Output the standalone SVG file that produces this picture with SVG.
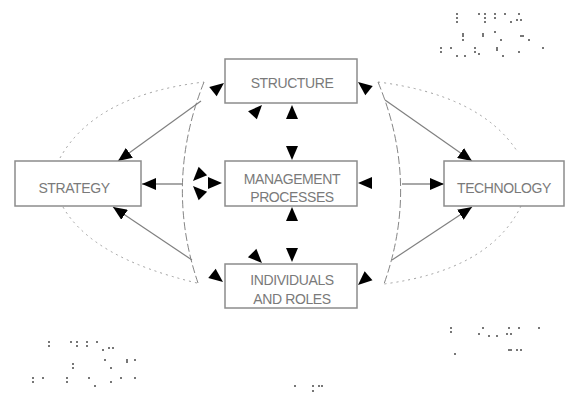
<svg xmlns="http://www.w3.org/2000/svg" xmlns:xlink="http://www.w3.org/1999/xlink" width="566" height="394" viewBox="0 0 566 394">
<style>
.box{fill:#fff;stroke:#8c8c8c;stroke-width:1.5}
.lbl{font-family:"Liberation Sans",Arial,sans-serif;font-size:14px;fill:#7a7a7a;text-anchor:middle;letter-spacing:-0.4px}
.dot{fill:none;stroke:#a0a0a0;stroke-width:1;stroke-dasharray:2 4}
.dash{fill:none;stroke:#858585;stroke-width:1;stroke-dasharray:8 3}
.sol{fill:none;stroke:#808080;stroke-width:1.2}
.hor{fill:none;stroke:#a8a8a8;stroke-width:2}
.ah{fill:#000}
.mk rect{fill:#777}
</style>
<defs>
<marker id="arr" viewBox="0 0 14 12" refX="14" refY="6" markerWidth="14" markerHeight="12" markerUnits="userSpaceOnUse" orient="auto">
<path d="M0,0 L14,6 L0,12 Z" fill="#000"/>
</marker>
<path id="ah" d="M0,0 L-14,-6 L-14,6 Z"/>
</defs>

<g id="connectors">
<!-- left side -->
<path class="dot" d="M60,158 Q95,95 204,82"/>
<path class="dot" d="M63,207 Q92,258 197,283"/>
<path class="dash" d="M204,82 Q164,183 198,283"/>
<line class="sol" x1="201" y1="101" x2="118" y2="161" marker-end="url(#arr)"/>
<line class="sol" x1="192" y1="260" x2="113" y2="207" marker-end="url(#arr)"/>
<line class="hor" x1="182" y1="184" x2="142" y2="184" marker-end="url(#arr)"/>
<!-- right side -->
<path class="dot" d="M378,82 Q480,95 517,151"/>
<path class="dot" d="M521,206 Q490,270 384,284"/>
<path class="dash" d="M378,82 Q420,183 384,284"/>
<line class="sol" x1="385" y1="100" x2="472" y2="161" marker-end="url(#arr)"/>
<line class="sol" x1="392" y1="260" x2="472" y2="207" marker-end="url(#arr)"/>
<line class="hor" x1="402" y1="184" x2="444" y2="184" marker-end="url(#arr)"/>
<!-- isolated arrowheads -->
<g class="ah">
<use xlink:href="#ah" transform="translate(224,83) rotate(-38)"/>
<use xlink:href="#ah" transform="translate(358,82) rotate(218)"/>
<use xlink:href="#ah" transform="translate(262,105) rotate(-47)"/>
<use xlink:href="#ah" transform="translate(292,105) rotate(-90)"/>
<use xlink:href="#ah" transform="translate(292,160) rotate(90)"/>
<use xlink:href="#ah" transform="translate(292,207) rotate(-90)"/>
<use xlink:href="#ah" transform="translate(292,262) rotate(90)"/>
<use xlink:href="#ah" transform="translate(262,263) rotate(45)"/>
<use xlink:href="#ah" transform="translate(223,282) rotate(38)"/>
<use xlink:href="#ah" transform="translate(358,285) rotate(139)"/>
<use xlink:href="#ah" transform="translate(222,183) rotate(0)"/>
<use xlink:href="#ah" transform="translate(358,183) rotate(180)"/>
<use xlink:href="#ah" transform="translate(193,181) rotate(135)"/>
<use xlink:href="#ah" transform="translate(193,186) rotate(225)"/>
</g>
</g>

<g id="structure">
<rect class="box" x="225" y="59" width="132" height="44"/>
<text class="lbl" x="292" y="88">STRUCTURE</text>
</g>
<g id="management">
<rect class="box" x="225" y="161" width="132" height="45"/>
<text class="lbl" x="292" y="183.5">MANAGEMENT</text>
<text class="lbl" x="292" y="201.5">PROCESSES</text>
</g>
<g id="individuals">
<rect class="box" x="225" y="264" width="132" height="44"/>
<text class="lbl" x="292" y="285">INDIVIDUALS</text>
<text class="lbl" x="292" y="304">AND ROLES</text>
</g>
<g id="strategy">
<rect class="box" x="15" y="161" width="126" height="45"/>
<text class="lbl" x="74" y="193">STRATEGY</text>
</g>
<g id="technology">
<rect class="box" x="444" y="161" width="120" height="45"/>
<text class="lbl" x="504" y="193">TECHNOLOGY</text>
</g>

<g id="marks" class="mk">
<rect x="456" y="13" width="2" height="2"/><rect x="456" y="17" width="2" height="2"/><rect x="456" y="21" width="2" height="2"/><rect x="478" y="13" width="2" height="2"/><rect x="484" y="13" width="2" height="2"/><rect x="484" y="17" width="2" height="2"/><rect x="484" y="21" width="2" height="2"/><rect x="494" y="13" width="2" height="2"/><rect x="494" y="17" width="2" height="2"/><rect x="504" y="13" width="2" height="2"/><rect x="510" y="21" width="2" height="2"/><rect x="516" y="19" width="2" height="2"/><rect x="520" y="19" width="2" height="2"/><rect x="518" y="13" width="2" height="2"/>
<rect x="462" y="33" width="2" height="2"/><rect x="462" y="35" width="2" height="2"/><rect x="462" y="39" width="2" height="2"/><rect x="482" y="33" width="2" height="2"/><rect x="482" y="35" width="2" height="2"/><rect x="494" y="31" width="2" height="2"/><rect x="500" y="39" width="2" height="2"/><rect x="520" y="35" width="2" height="2"/><rect x="522" y="35" width="2" height="2"/><rect x="528" y="39" width="2" height="2"/>
<rect x="440" y="47" width="2" height="2"/><rect x="440" y="51" width="2" height="2"/><rect x="450" y="47" width="2" height="2"/><rect x="456" y="55" width="2" height="2"/><rect x="464" y="55" width="2" height="2"/><rect x="474" y="47" width="2" height="2"/><rect x="474" y="51" width="2" height="2"/><rect x="478" y="53" width="2" height="2"/><rect x="496" y="47" width="2" height="2"/><rect x="496" y="49" width="2" height="2"/><rect x="502" y="55" width="2" height="2"/><rect x="518" y="51" width="2" height="2"/><rect x="542" y="47" width="2" height="2"/>
<rect x="48" y="341" width="2" height="2"/><rect x="48" y="345" width="2" height="2"/><rect x="70" y="341" width="2" height="2"/><rect x="76" y="341" width="2" height="2"/><rect x="76" y="345" width="2" height="2"/><rect x="86" y="341" width="2" height="2"/><rect x="86" y="345" width="2" height="2"/><rect x="96" y="341" width="2" height="2"/><rect x="102" y="349" width="2" height="2"/><rect x="108" y="347" width="2" height="2"/><rect x="112" y="347" width="2" height="2"/>
<rect x="72" y="363" width="2" height="2"/><rect x="72" y="367" width="2" height="2"/><rect x="104" y="359" width="2" height="2"/><rect x="126" y="359" width="2" height="2"/><rect x="126" y="361" width="2" height="2"/><rect x="134" y="359" width="2" height="2"/><rect x="110" y="367" width="2" height="2"/>
<rect x="32" y="377" width="2" height="2"/><rect x="32" y="381" width="2" height="2"/><rect x="42" y="377" width="2" height="2"/><rect x="66" y="377" width="2" height="2"/><rect x="66" y="381" width="2" height="2"/><rect x="88" y="377" width="2" height="2"/><rect x="94" y="385" width="2" height="2"/><rect x="110" y="381" width="2" height="2"/><rect x="120" y="377" width="2" height="2"/><rect x="134" y="377" width="2" height="2"/>
<rect x="450" y="327" width="2" height="2"/><rect x="450" y="331" width="2" height="2"/><rect x="482" y="327" width="2" height="2"/><rect x="478" y="333" width="2" height="2"/><rect x="488" y="335" width="2" height="2"/><rect x="496" y="335" width="2" height="2"/><rect x="506" y="333" width="2" height="2"/><rect x="510" y="333" width="2" height="2"/><rect x="508" y="327" width="2" height="2"/><rect x="518" y="327" width="2" height="2"/><rect x="538" y="327" width="2" height="2"/><rect x="454" y="353" width="2" height="2"/><rect x="508" y="349" width="2" height="2"/><rect x="510" y="349" width="2" height="2"/><rect x="516" y="349" width="2" height="2"/><rect x="520" y="349" width="2" height="2"/>
<rect x="294" y="385" width="2" height="2"/><rect x="312" y="385" width="2" height="2"/><rect x="312" y="390" width="2" height="2"/><rect x="318" y="385" width="2" height="2"/><rect x="321" y="385" width="2" height="2"/>
</g>
</svg>
